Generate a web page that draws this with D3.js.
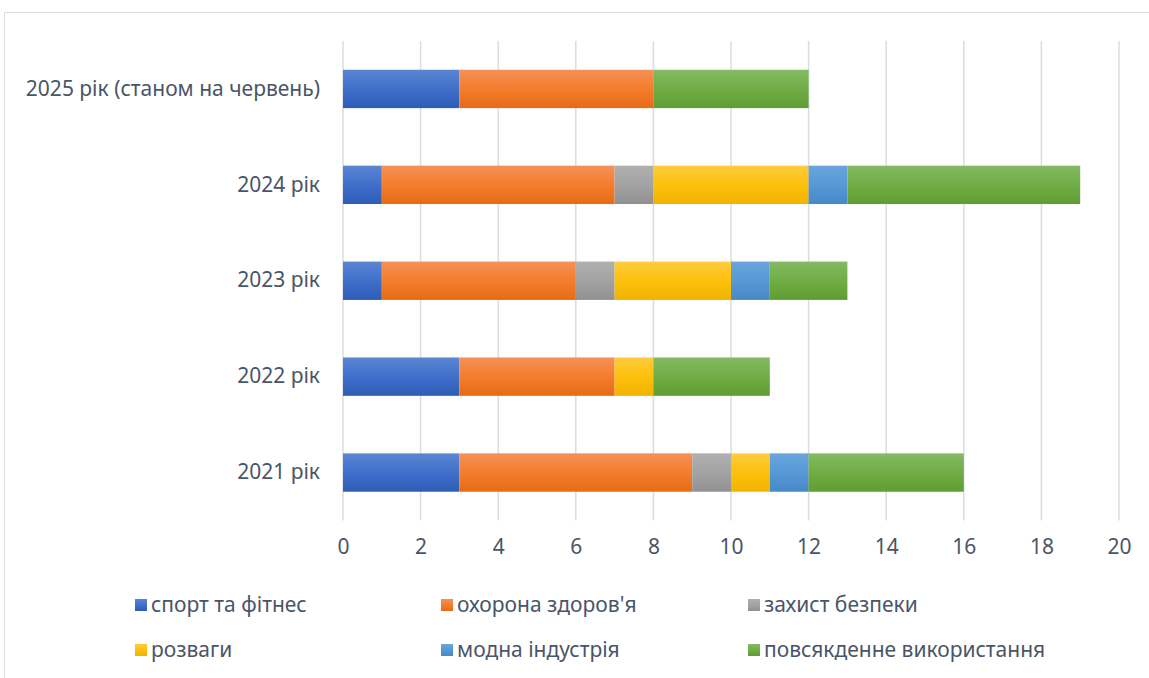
<!DOCTYPE html>
<html>
<head>
<meta charset="utf-8">
<script src="https://cdn.jsdelivr.net/npm/d3@7"></script>
<style>
  body { margin: 0; background: #fff; }
  svg { display: block; font-family: "Noto Sans", "Open Sans", sans-serif; }
</style>
</head>
<body>
<svg id="chart" width="1149" height="678"></svg>
<script>
// Years (top to bottom)
const categories = ["2025 рік (станом на червень)", "2024 рік", "2023 рік", "2022 рік", "2021 рік"];
// Application areas, in stacking order
const seriesNames = ["спорт та фітнес", "охорона здоров'я", "захист безпеки", "розваги", "модна індустрія", "повсякденне використання"];
// Values per area, aligned with categories
const sport       = [3, 1, 1, 3, 3];
const health      = [5, 6, 5, 4, 6];
const security    = [0, 1, 1, 0, 1];
const entertain   = [0, 4, 3, 1, 1];
const fashion     = [0, 1, 1, 0, 1];
const everyday    = [4, 6, 2, 3, 4];
const xTicks = [0, 2, 4, 6, 8, 10, 12, 14, 16, 18, 20];

const seriesValues = [sport, health, security, entertain, fashion, everyday];
const colorStops = [
  ["#5D86D2", "#3F6FCB", "#2E5DB7"],
  ["#F39159", "#F47D2C", "#E66B16"],
  ["#B0B0B0", "#A3A3A3", "#919191"],
  ["#FFCB3D", "#FDC00C", "#F0B300"],
  ["#6AA5DB", "#5699D6", "#4888C8"],
  ["#84BA63", "#70AD45", "#5F9E33"]
];

const FONT = 21;
const TEXT = "#4A5568";

const rows = categories.map((c, i) => {
  const r = { cat: c };
  seriesNames.forEach((s, j) => r[s] = seriesValues[j][i]);
  return r;
});

const svg = d3.select("#chart");

// chart frame
svg.append("rect").attr("x", 4.5).attr("y", 12.5).attr("width", 1160).attr("height", 700)
  .attr("fill", "none").attr("stroke", "#D9DCE1").attr("stroke-width", 1);

const defs = svg.append("defs");
colorStops.forEach((st, j) => {
  const g = defs.append("linearGradient").attr("id", "g" + j)
    .attr("x1", 0).attr("y1", 0).attr("x2", 0).attr("y2", 1);
  g.append("stop").attr("offset", "0%").attr("stop-color", st[0]);
  g.append("stop").attr("offset", "50%").attr("stop-color", st[1]);
  g.append("stop").attr("offset", "100%").attr("stop-color", st[2]);
});

const x = d3.scaleLinear().domain([0, 20]).range([343, 1119]);
const y = d3.scaleBand().domain(categories).range([41, 520.5]).paddingInner(0.6).paddingOuter(0.3);

// vertical gridlines
svg.append("g").selectAll("line").data(xTicks).join("line")
  .attr("x1", d => x(d)).attr("x2", d => x(d))
  .attr("y1", 41).attr("y2", 520.5)
  .attr("stroke", "#D9DDE3").attr("stroke-width", 1.5);

// stacked bars
const stack = d3.stack().keys(seriesNames)(rows);
svg.append("g").selectAll("g").data(stack).join("g")
  .attr("fill", (d, j) => `url(#g${j})`)
  .selectAll("rect").data(d => d.filter(p => p[1] - p[0] > 0)).join("rect")
  .attr("x", d => x(d[0]))
  .attr("width", d => x(d[1]) - x(d[0]))
  .attr("y", d => y(d.data.cat))
  .attr("height", y.bandwidth());

// x axis labels
const xAxis = svg.append("g").attr("transform", "translate(0,520.5)")
  .call(d3.axisBottom(x).tickValues(xTicks).tickSize(0).tickPadding(19));
xAxis.select(".domain").remove();
xAxis.selectAll("text").attr("font-size", FONT).attr("fill", TEXT)
  .attr("font-family", "'Noto Sans', 'Open Sans', sans-serif");

// y axis labels
const yAxis = svg.append("g").attr("transform", "translate(343,0)")
  .call(d3.axisLeft(y).tickSize(0).tickPadding(23));
yAxis.select(".domain").remove();
yAxis.selectAll("text").attr("font-size", FONT).attr("fill", TEXT)
  .attr("font-family", "'Noto Sans', 'Open Sans', sans-serif");

// legend
const legendCols = [135, 441, 748];
const legendRows = [605, 650];
const legend = svg.append("g").selectAll("g").data(seriesNames).join("g")
  .attr("transform", (d, i) => `translate(${legendCols[i % 3]},${legendRows[Math.floor(i / 3)]})`);
legend.append("rect").attr("x", 0).attr("y", -6).attr("width", 12).attr("height", 12)
  .attr("fill", (d, i) => `url(#g${i})`);
legend.append("text").attr("x", 16).attr("y", 0).attr("dy", "0.35em")
  .attr("font-size", FONT).attr("fill", TEXT).text(d => d);
</script>
</body>
</html>
